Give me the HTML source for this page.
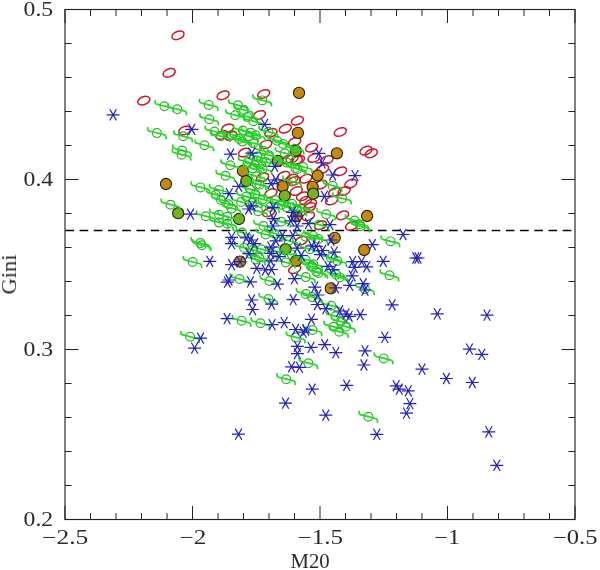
<!DOCTYPE html>
<html><head><meta charset="utf-8"><style>html,body{margin:0;padding:0;background:#fff;}svg{display:block;}</style></head>
<body><svg width="600" height="570" viewBox="0 0 600 570">
<rect width="600" height="570" fill="#fff"/>
<defs>
<g id="g" fill="none" stroke="#20dc20" stroke-width="1.75"><circle r="4.4" stroke="#30b030" stroke-width="1.2"/><path d="M-9.2 -6Q-10 -1.6 -5.8 -1.6L6.4 1.5Q9.8 2 9 6"/></g>
<path id="a" d="M-6.5 0H6.5M-3.3 -5.6L3.3 5.6M3.3 -5.6L-3.3 5.6" stroke="#2222bc" stroke-width="1.2" fill="none"/>
</defs>
<path d="M65.00 519.5V506.00M65.00 9.5V23.00M90.50 519.5V513.00M90.50 9.5V16.00M116.00 519.5V513.00M116.00 9.5V16.00M141.50 519.5V513.00M141.50 9.5V16.00M167.00 519.5V513.00M167.00 9.5V16.00M192.50 519.5V506.00M192.50 9.5V23.00M218.00 519.5V513.00M218.00 9.5V16.00M243.50 519.5V513.00M243.50 9.5V16.00M269.00 519.5V513.00M269.00 9.5V16.00M294.50 519.5V513.00M294.50 9.5V16.00M320.00 519.5V506.00M320.00 9.5V23.00M345.50 519.5V513.00M345.50 9.5V16.00M371.00 519.5V513.00M371.00 9.5V16.00M396.50 519.5V513.00M396.50 9.5V16.00M422.00 519.5V513.00M422.00 9.5V16.00M447.50 519.5V506.00M447.50 9.5V23.00M473.00 519.5V513.00M473.00 9.5V16.00M498.50 519.5V513.00M498.50 9.5V16.00M524.00 519.5V513.00M524.00 9.5V16.00M549.50 519.5V513.00M549.50 9.5V16.00M575.00 519.5V506.00M575.00 9.5V23.00M65 519.50H78.50M575 519.50H561.50M65 485.50H71.50M575 485.50H568.50M65 451.50H71.50M575 451.50H568.50M65 417.50H71.50M575 417.50H568.50M65 383.50H71.50M575 383.50H568.50M65 349.50H78.50M575 349.50H561.50M65 315.50H71.50M575 315.50H568.50M65 281.50H71.50M575 281.50H568.50M65 247.50H71.50M575 247.50H568.50M65 213.50H71.50M575 213.50H568.50M65 179.50H78.50M575 179.50H561.50M65 145.50H71.50M575 145.50H568.50M65 111.50H71.50M575 111.50H568.50M65 77.50H71.50M575 77.50H568.50M65 43.50H71.50M575 43.50H568.50M65 9.50H78.50M575 9.50H561.50" stroke="#222" stroke-width="1.0" fill="none"/>
<path d="M65 230.50H575" stroke="#000" stroke-width="1.4" stroke-dasharray="8.6 5.61" stroke-dashoffset="-0.4" fill="none"/>
<g fill="none" stroke="#d01428" stroke-width="1.5"><ellipse cx="178.0" cy="35.3" rx="6.3" ry="3.9" transform="rotate(-22 178.0 35.3)"/><ellipse cx="169.2" cy="72.8" rx="6.3" ry="3.9" transform="rotate(-22 169.2 72.8)"/><ellipse cx="143.8" cy="100.6" rx="6.3" ry="3.9" transform="rotate(-22 143.8 100.6)"/><ellipse cx="223.1" cy="95.3" rx="6.3" ry="3.9" transform="rotate(-22 223.1 95.3)"/><ellipse cx="263.7" cy="94.0" rx="6.3" ry="3.9" transform="rotate(-22 263.7 94.0)"/><ellipse cx="259.4" cy="115.0" rx="6.3" ry="3.9" transform="rotate(-22 259.4 115.0)"/><ellipse cx="297.4" cy="120.7" rx="6.3" ry="3.9" transform="rotate(-22 297.4 120.7)"/><ellipse cx="340.3" cy="132.0" rx="6.3" ry="3.9" transform="rotate(-22 340.3 132.0)"/><ellipse cx="366.0" cy="150.7" rx="6.3" ry="3.9" transform="rotate(-22 366.0 150.7)"/><ellipse cx="371.3" cy="153.3" rx="6.3" ry="3.9" transform="rotate(-22 371.3 153.3)"/><ellipse cx="184.7" cy="130.5" rx="6.3" ry="3.9" transform="rotate(-22 184.7 130.5)"/><ellipse cx="227.6" cy="128.4" rx="6.3" ry="3.9" transform="rotate(-22 227.6 128.4)"/><ellipse cx="231.0" cy="136.0" rx="6.3" ry="3.9" transform="rotate(-22 231.0 136.0)"/><ellipse cx="222.0" cy="135.0" rx="6.3" ry="3.9" transform="rotate(-22 222.0 135.0)"/><ellipse cx="244.5" cy="152.6" rx="6.3" ry="3.9" transform="rotate(-22 244.5 152.6)"/><ellipse cx="271.0" cy="132.9" rx="6.3" ry="3.9" transform="rotate(-22 271.0 132.9)"/><ellipse cx="285.3" cy="128.7" rx="6.3" ry="3.9" transform="rotate(-22 285.3 128.7)"/><ellipse cx="265.8" cy="144.5" rx="6.3" ry="3.9" transform="rotate(-22 265.8 144.5)"/><ellipse cx="311.6" cy="147.6" rx="6.3" ry="3.9" transform="rotate(-22 311.6 147.6)"/><ellipse cx="294.7" cy="141.8" rx="6.3" ry="3.9" transform="rotate(-22 294.7 141.8)"/><ellipse cx="314.0" cy="158.0" rx="6.3" ry="3.9" transform="rotate(-22 314.0 158.0)"/><ellipse cx="327.0" cy="160.0" rx="6.3" ry="3.9" transform="rotate(-22 327.0 160.0)"/><ellipse cx="298.4" cy="159.7" rx="6.3" ry="3.9" transform="rotate(-22 298.4 159.7)"/><ellipse cx="292.1" cy="158.7" rx="6.3" ry="3.9" transform="rotate(-22 292.1 158.7)"/><ellipse cx="340.5" cy="171.3" rx="6.3" ry="3.9" transform="rotate(-22 340.5 171.3)"/><ellipse cx="305.8" cy="178.7" rx="6.3" ry="3.9" transform="rotate(-22 305.8 178.7)"/><ellipse cx="322.6" cy="169.2" rx="6.3" ry="3.9" transform="rotate(-22 322.6 169.2)"/><ellipse cx="292.1" cy="178.7" rx="6.3" ry="3.9" transform="rotate(-22 292.1 178.7)"/><ellipse cx="350.8" cy="183.7" rx="6.3" ry="3.9" transform="rotate(-22 350.8 183.7)"/><ellipse cx="262.6" cy="177.4" rx="6.3" ry="3.9" transform="rotate(-22 262.6 177.4)"/><ellipse cx="283.7" cy="175.8" rx="6.3" ry="3.9" transform="rotate(-22 283.7 175.8)"/><ellipse cx="271.0" cy="193.2" rx="6.3" ry="3.9" transform="rotate(-22 271.0 193.2)"/><ellipse cx="287.9" cy="159.5" rx="6.3" ry="3.9" transform="rotate(-22 287.9 159.5)"/><ellipse cx="296.3" cy="160.5" rx="6.3" ry="3.9" transform="rotate(-22 296.3 160.5)"/><ellipse cx="302.6" cy="196.3" rx="6.3" ry="3.9" transform="rotate(-22 302.6 196.3)"/><ellipse cx="305.8" cy="200.5" rx="6.3" ry="3.9" transform="rotate(-22 305.8 200.5)"/><ellipse cx="296.3" cy="191.0" rx="6.3" ry="3.9" transform="rotate(-22 296.3 191.0)"/><ellipse cx="294.2" cy="181.0" rx="6.3" ry="3.9" transform="rotate(-22 294.2 181.0)"/><ellipse cx="321.0" cy="184.7" rx="6.3" ry="3.9" transform="rotate(-22 321.0 184.7)"/><ellipse cx="334.7" cy="192.1" rx="6.3" ry="3.9" transform="rotate(-22 334.7 192.1)"/><ellipse cx="344.2" cy="191.0" rx="6.3" ry="3.9" transform="rotate(-22 344.2 191.0)"/><ellipse cx="331.6" cy="200.5" rx="6.3" ry="3.9" transform="rotate(-22 331.6 200.5)"/><ellipse cx="310.5" cy="203.7" rx="6.3" ry="3.9" transform="rotate(-22 310.5 203.7)"/><ellipse cx="342.6" cy="215.3" rx="6.3" ry="3.9" transform="rotate(-22 342.6 215.3)"/><ellipse cx="308.4" cy="216.3" rx="6.3" ry="3.9" transform="rotate(-22 308.4 216.3)"/><ellipse cx="351.6" cy="225.8" rx="6.3" ry="3.9" transform="rotate(-22 351.6 225.8)"/><ellipse cx="268.7" cy="212.4" rx="6.3" ry="3.9" transform="rotate(-22 268.7 212.4)"/><ellipse cx="309.7" cy="207.1" rx="6.3" ry="3.9" transform="rotate(-22 309.7 207.1)"/><ellipse cx="301.3" cy="240.8" rx="6.3" ry="3.9" transform="rotate(-22 301.3 240.8)"/><ellipse cx="320.5" cy="225.3" rx="6.3" ry="3.9" transform="rotate(-22 320.5 225.3)"/><ellipse cx="294.7" cy="269.2" rx="6.3" ry="3.9" transform="rotate(-22 294.7 269.2)"/></g>
<g fill="#c38a12" stroke="#2a1c00" stroke-width="1.1"><circle cx="299.0" cy="92.9" r="5.6"/><circle cx="336.9" cy="153.3" r="5.6"/><circle cx="166.0" cy="184.0" r="5.6"/><circle cx="242.9" cy="171.0" r="5.6"/><circle cx="297.9" cy="132.9" r="5.6"/><circle cx="317.6" cy="175.5" r="5.6"/><circle cx="282.6" cy="186.3" r="5.6"/><circle cx="312.6" cy="186.8" r="5.6"/><circle cx="367.1" cy="216.0" r="5.6"/><circle cx="240.0" cy="261.6" r="5.6"/><circle cx="296.6" cy="216.1" r="5.6"/><circle cx="296.1" cy="260.8" r="5.6"/><circle cx="334.7" cy="237.9" r="5.6"/><circle cx="364.2" cy="250.0" r="5.6"/><circle cx="330.8" cy="288.4" r="5.6"/></g>
<g fill="#7cae28" stroke="#1c2a00" stroke-width="1.1"><circle cx="295.8" cy="150.8" r="5.6"/><circle cx="178.2" cy="213.2" r="5.6"/><circle cx="246.3" cy="181.0" r="5.6"/><circle cx="239.0" cy="219.0" r="5.6"/><circle cx="277.9" cy="161.0" r="5.6"/><circle cx="284.7" cy="195.8" r="5.6"/><circle cx="313.2" cy="193.7" r="5.6"/><circle cx="285.5" cy="249.2" r="5.6"/></g>
<g><use href="#g" x="164.4" y="106.2"/><use href="#g" x="156.9" y="133.1"/><use href="#g" x="177.3" y="109.3"/><use href="#g" x="208.7" y="104.9"/><use href="#g" x="209.3" y="119.3"/><use href="#g" x="238.0" y="105.3"/><use href="#g" x="235.3" y="115.3"/><use href="#g" x="262.3" y="100.4"/><use href="#g" x="183.2" y="136.3"/><use href="#g" x="182.1" y="150.5"/><use href="#g" x="181.6" y="154.7"/><use href="#g" x="214.5" y="131.6"/><use href="#g" x="220.8" y="136.3"/><use href="#g" x="231.8" y="134.7"/><use href="#g" x="239.2" y="139.0"/><use href="#g" x="242.9" y="130.5"/><use href="#g" x="204.5" y="145.3"/><use href="#g" x="230.3" y="165.3"/><use href="#g" x="225.5" y="175.8"/><use href="#g" x="268.4" y="131.8"/><use href="#g" x="247.6" y="116.9"/><use href="#g" x="253.3" y="121.3"/><use href="#g" x="250.7" y="132.7"/><use href="#g" x="248.9" y="136.2"/><use href="#g" x="244.0" y="110.0"/><use href="#g" x="283.2" y="144.0"/><use href="#g" x="294.7" y="148.7"/><use href="#g" x="295.3" y="168.2"/><use href="#g" x="303.0" y="167.0"/><use href="#g" x="200.5" y="187.4"/><use href="#g" x="170.5" y="204.7"/><use href="#g" x="205.8" y="216.3"/><use href="#g" x="218.9" y="190.0"/><use href="#g" x="215.8" y="194.7"/><use href="#g" x="221.0" y="200.0"/><use href="#g" x="228.4" y="204.2"/><use href="#g" x="231.6" y="208.4"/><use href="#g" x="246.3" y="196.8"/><use href="#g" x="250.5" y="189.5"/><use href="#g" x="254.7" y="165.3"/><use href="#g" x="256.8" y="184.2"/><use href="#g" x="219.0" y="214.7"/><use href="#g" x="227.4" y="216.8"/><use href="#g" x="241.0" y="202.0"/><use href="#g" x="252.6" y="202.1"/><use href="#g" x="256.3" y="160.5"/><use href="#g" x="262.6" y="169.0"/><use href="#g" x="256.3" y="176.3"/><use href="#g" x="259.5" y="184.7"/><use href="#g" x="255.3" y="194.2"/><use href="#g" x="262.6" y="199.5"/><use href="#g" x="281.6" y="204.7"/><use href="#g" x="292.1" y="203.7"/><use href="#g" x="297.4" y="169.0"/><use href="#g" x="292.1" y="181.6"/><use href="#g" x="286.8" y="162.6"/><use href="#g" x="269.0" y="155.3"/><use href="#g" x="284.7" y="153.2"/><use href="#g" x="332.6" y="185.8"/><use href="#g" x="342.1" y="198.4"/><use href="#g" x="326.3" y="214.2"/><use href="#g" x="354.7" y="220.5"/><use href="#g" x="319.0" y="224.7"/><use href="#g" x="302.0" y="207.9"/><use href="#g" x="359.5" y="224.2"/><use href="#g" x="390.5" y="241.4"/><use href="#g" x="383.7" y="358.4"/><use href="#g" x="200.4" y="243.1"/><use href="#g" x="201.8" y="245.2"/><use href="#g" x="192.6" y="262.0"/><use href="#g" x="227.4" y="223.7"/><use href="#g" x="219.0" y="222.6"/><use href="#g" x="244.2" y="247.9"/><use href="#g" x="252.6" y="250.0"/><use href="#g" x="242.1" y="232.6"/><use href="#g" x="255.8" y="259.5"/><use href="#g" x="258.2" y="211.3"/><use href="#g" x="263.4" y="226.0"/><use href="#g" x="265.5" y="234.5"/><use href="#g" x="261.3" y="249.2"/><use href="#g" x="259.2" y="257.6"/><use href="#g" x="281.3" y="221.8"/><use href="#g" x="286.6" y="207.1"/><use href="#g" x="305.5" y="236.6"/><use href="#g" x="309.7" y="249.2"/><use href="#g" x="305.5" y="259.7"/><use href="#g" x="288.7" y="240.8"/><use href="#g" x="276.0" y="251.3"/><use href="#g" x="291.8" y="254.5"/><use href="#g" x="274.0" y="233.4"/><use href="#g" x="313.2" y="235.8"/><use href="#g" x="318.4" y="239.0"/><use href="#g" x="331.0" y="257.9"/><use href="#g" x="337.4" y="261.0"/><use href="#g" x="313.2" y="264.2"/><use href="#g" x="316.3" y="271.6"/><use href="#g" x="336.3" y="274.7"/><use href="#g" x="360.5" y="226.3"/><use href="#g" x="389.5" y="275.3"/><use href="#g" x="190.1" y="336.8"/><use href="#g" x="241.6" y="320.8"/><use href="#g" x="239.5" y="279.0"/><use href="#g" x="269.5" y="281.0"/><use href="#g" x="268.4" y="299.0"/><use href="#g" x="260.5" y="323.2"/><use href="#g" x="305.8" y="277.1"/><use href="#g" x="305.8" y="294.0"/><use href="#g" x="312.1" y="266.6"/><use href="#g" x="318.4" y="272.9"/><use href="#g" x="285.8" y="262.4"/><use href="#g" x="312.1" y="297.1"/><use href="#g" x="365.0" y="289.0"/><use href="#g" x="339.7" y="277.4"/><use href="#g" x="331.3" y="305.8"/><use href="#g" x="335.5" y="316.3"/><use href="#g" x="340.8" y="321.6"/><use href="#g" x="333.4" y="326.8"/><use href="#g" x="346.0" y="326.8"/><use href="#g" x="312.6" y="330.0"/><use href="#g" x="295.8" y="337.4"/><use href="#g" x="308.4" y="363.2"/><use href="#g" x="339.2" y="331.8"/><use href="#g" x="286.2" y="379.2"/><use href="#g" x="368.4" y="416.8"/><use href="#g" x="255.8" y="135.3"/><use href="#g" x="242.4" y="141.6"/><use href="#g" x="253.4" y="143.2"/><use href="#g" x="277.1" y="140.8"/><use href="#g" x="257.4" y="156.6"/><use href="#g" x="263.7" y="151.0"/><use href="#g" x="247.9" y="162.1"/><use href="#g" x="266.0" y="162.1"/><use href="#g" x="252.6" y="168.6"/><use href="#g" x="275.0" y="200.0"/><use href="#g" x="270.0" y="207.0"/><use href="#g" x="297.0" y="210.0"/></g>
<g><use href="#a" x="113.1" y="114.8"/><use href="#a" x="264.7" y="124.4"/><use href="#a" x="191.8" y="129.3"/><use href="#a" x="230.6" y="154.2"/><use href="#a" x="251.8" y="153.2"/><use href="#a" x="318.9" y="153.4"/><use href="#a" x="322.1" y="162.9"/><use href="#a" x="332.6" y="175.0"/><use href="#a" x="355.0" y="175.6"/><use href="#a" x="190.5" y="214.2"/><use href="#a" x="238.7" y="186.3"/><use href="#a" x="229.3" y="193.7"/><use href="#a" x="248.6" y="209.0"/><use href="#a" x="274.7" y="166.3"/><use href="#a" x="275.8" y="180.0"/><use href="#a" x="271.0" y="183.7"/><use href="#a" x="252.1" y="205.8"/><use href="#a" x="273.2" y="207.4"/><use href="#a" x="324.4" y="196.3"/><use href="#a" x="308.4" y="223.7"/><use href="#a" x="330.0" y="224.7"/><use href="#a" x="403.0" y="234.5"/><use href="#a" x="415.8" y="258.0"/><use href="#a" x="418.0" y="258.0"/><use href="#a" x="392.1" y="304.8"/><use href="#a" x="437.3" y="313.9"/><use href="#a" x="487.0" y="315.1"/><use href="#a" x="384.8" y="337.4"/><use href="#a" x="469.5" y="349.1"/><use href="#a" x="481.8" y="354.4"/><use href="#a" x="422.0" y="369.1"/><use href="#a" x="446.4" y="378.5"/><use href="#a" x="472.3" y="382.5"/><use href="#a" x="396.2" y="385.8"/><use href="#a" x="399.2" y="389.2"/><use href="#a" x="408.3" y="390.8"/><use href="#a" x="409.9" y="403.6"/><use href="#a" x="406.5" y="413.1"/><use href="#a" x="488.8" y="431.9"/><use href="#a" x="496.8" y="465.3"/><use href="#a" x="209.8" y="261.3"/><use href="#a" x="231.6" y="237.4"/><use href="#a" x="231.6" y="243.7"/><use href="#a" x="246.3" y="237.9"/><use href="#a" x="250.5" y="240.0"/><use href="#a" x="254.7" y="243.7"/><use href="#a" x="248.9" y="253.7"/><use href="#a" x="231.6" y="264.7"/><use href="#a" x="256.8" y="268.4"/><use href="#a" x="273.4" y="218.7"/><use href="#a" x="272.9" y="226.0"/><use href="#a" x="292.4" y="212.4"/><use href="#a" x="290.8" y="220.8"/><use href="#a" x="297.1" y="226.0"/><use href="#a" x="282.4" y="235.5"/><use href="#a" x="292.9" y="235.5"/><use href="#a" x="276.0" y="240.8"/><use href="#a" x="270.8" y="247.1"/><use href="#a" x="297.1" y="248.2"/><use href="#a" x="270.8" y="253.4"/><use href="#a" x="279.2" y="256.6"/><use href="#a" x="301.3" y="255.5"/><use href="#a" x="270.8" y="260.8"/><use href="#a" x="311.8" y="246.0"/><use href="#a" x="316.3" y="246.3"/><use href="#a" x="322.6" y="250.5"/><use href="#a" x="320.5" y="254.7"/><use href="#a" x="334.2" y="252.1"/><use href="#a" x="327.9" y="266.3"/><use href="#a" x="333.2" y="269.5"/><use href="#a" x="352.6" y="261.6"/><use href="#a" x="361.6" y="261.6"/><use href="#a" x="354.2" y="267.4"/><use href="#a" x="366.8" y="266.8"/><use href="#a" x="352.1" y="275.8"/><use href="#a" x="372.4" y="244.7"/><use href="#a" x="383.2" y="261.3"/><use href="#a" x="363.2" y="283.7"/><use href="#a" x="200.6" y="338.2"/><use href="#a" x="194.6" y="348.1"/><use href="#a" x="227.1" y="318.7"/><use href="#a" x="238.5" y="434.2"/><use href="#a" x="265.3" y="270.0"/><use href="#a" x="271.6" y="269.5"/><use href="#a" x="227.4" y="282.1"/><use href="#a" x="229.0" y="280.0"/><use href="#a" x="250.5" y="281.9"/><use href="#a" x="277.4" y="284.2"/><use href="#a" x="251.6" y="300.0"/><use href="#a" x="252.6" y="309.5"/><use href="#a" x="271.6" y="304.2"/><use href="#a" x="294.4" y="278.7"/><use href="#a" x="314.7" y="287.1"/><use href="#a" x="317.9" y="295.0"/><use href="#a" x="317.4" y="304.5"/><use href="#a" x="325.8" y="308.7"/><use href="#a" x="293.2" y="299.7"/><use href="#a" x="349.7" y="285.3"/><use href="#a" x="365.0" y="290.0"/><use href="#a" x="339.7" y="311.0"/><use href="#a" x="346.0" y="314.2"/><use href="#a" x="349.2" y="316.3"/><use href="#a" x="360.3" y="314.7"/><use href="#a" x="272.1" y="324.7"/><use href="#a" x="284.2" y="322.6"/><use href="#a" x="311.4" y="319.3"/><use href="#a" x="295.6" y="329.5"/><use href="#a" x="303.2" y="332.1"/><use href="#a" x="305.8" y="330.0"/><use href="#a" x="297.4" y="346.3"/><use href="#a" x="311.0" y="347.4"/><use href="#a" x="324.7" y="344.7"/><use href="#a" x="335.8" y="352.6"/><use href="#a" x="297.4" y="353.7"/><use href="#a" x="291.6" y="366.8"/><use href="#a" x="299.5" y="367.4"/><use href="#a" x="365.0" y="350.8"/><use href="#a" x="363.9" y="365.0"/><use href="#a" x="312.2" y="389.2"/><use href="#a" x="285.5" y="403.2"/><use href="#a" x="325.8" y="415.2"/><use href="#a" x="346.7" y="385.3"/><use href="#a" x="376.8" y="434.4"/><use href="#a" x="240.0" y="261.6"/><use href="#a" x="296.6" y="216.1"/><use href="#a" x="331.0" y="240.0"/><use href="#a" x="335.5" y="287.9"/></g>
<rect x="65" y="9.5" width="510" height="510.0" fill="none" stroke="#222" stroke-width="1.15"/>
<g style="opacity:0.999">
<text x="23.6" y="16.0" textLength="29.6" lengthAdjust="spacingAndGlyphs" font-family="Liberation Serif, serif" font-size="20" fill="#2a2a2a">0.5</text>
<text x="23.6" y="186.0" textLength="29.6" lengthAdjust="spacingAndGlyphs" font-family="Liberation Serif, serif" font-size="20" fill="#2a2a2a">0.4</text>
<text x="23.6" y="356.0" textLength="29.6" lengthAdjust="spacingAndGlyphs" font-family="Liberation Serif, serif" font-size="20" fill="#2a2a2a">0.3</text>
<text x="23.6" y="526.0" textLength="29.6" lengthAdjust="spacingAndGlyphs" font-family="Liberation Serif, serif" font-size="20" fill="#2a2a2a">0.2</text>
<text x="42.1" y="543.7" textLength="46.2" lengthAdjust="spacingAndGlyphs" font-family="Liberation Serif, serif" font-size="20" fill="#2a2a2a">−2.5</text>
<text x="179.5" y="543.7" textLength="26.8" lengthAdjust="spacingAndGlyphs" font-family="Liberation Serif, serif" font-size="20" fill="#2a2a2a">−2</text>
<text x="297.5" y="543.7" textLength="45.5" lengthAdjust="spacingAndGlyphs" font-family="Liberation Serif, serif" font-size="20" fill="#2a2a2a">−1.5</text>
<text x="434.3" y="543.7" textLength="25.7" lengthAdjust="spacingAndGlyphs" font-family="Liberation Serif, serif" font-size="20" fill="#2a2a2a">−1</text>
<text x="552.9" y="543.7" textLength="44.7" lengthAdjust="spacingAndGlyphs" font-family="Liberation Serif, serif" font-size="20" fill="#2a2a2a">−0.5</text>
<text x="290.5" y="567.7" textLength="39.2" lengthAdjust="spacingAndGlyphs" font-family="Liberation Serif, serif" font-size="20" fill="#2a2a2a">M20</text>
<text transform="translate(16 294.5) rotate(-90)" textLength="40" lengthAdjust="spacingAndGlyphs" font-family="Liberation Serif, serif" font-size="20" fill="#2a2a2a">Gini</text>
</g>
</svg></body></html>
